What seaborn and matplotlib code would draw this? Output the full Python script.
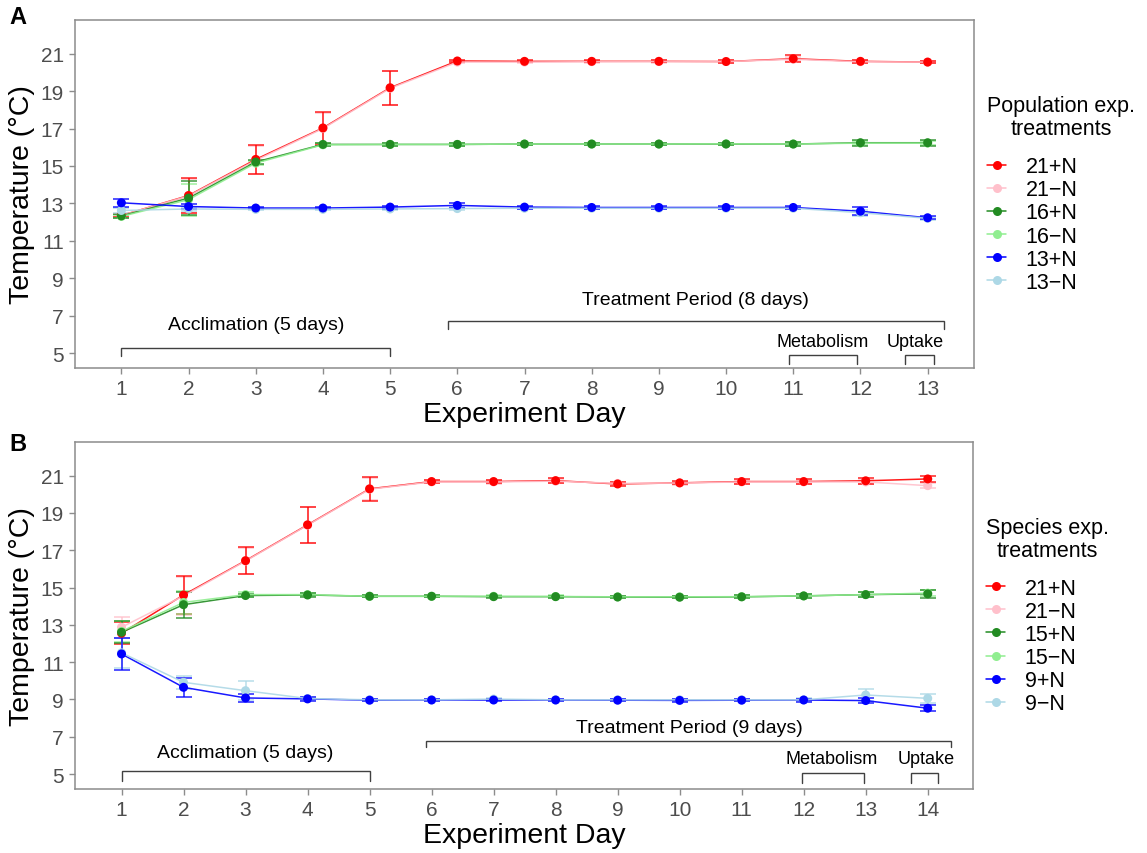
import numpy as np
import pandas as pd
import matplotlib
matplotlib.use("Agg")
import matplotlib.pyplot as plt
import seaborn as sns
from matplotlib.lines import Line2D

sns.set_theme(style="white")
plt.rcParams['font.family'] = ['Liberation Sans', 'DejaVu Sans']
plt.rcParams['text.color'] = 'black'
plt.rcParams['axes.labelcolor'] = 'black'

# ---------------- Panel A data (Population experiment) ----------------
days_a = list(range(1, 14))
labels_a = ["21+N", "21\u2212N", "16+N", "16\u2212N", "13+N", "13\u2212N"]
a_21p = [12.35, 13.42, 15.35, 17.03, 19.18, 20.61, 20.59, 20.59, 20.59, 20.58, 20.73, 20.59, 20.55]
a_21m = [12.35, 13.40, 15.30, 17.00, 19.15, 20.55, 20.55, 20.57, 20.58, 20.58, 20.70, 20.57, 20.55]
a_16p = [12.33, 13.28, 15.21, 16.15, 16.15, 16.15, 16.17, 16.17, 16.17, 16.17, 16.17, 16.24, 16.24]
a_16m = [12.30, 13.20, 15.15, 16.13, 16.15, 16.15, 16.17, 16.17, 16.17, 16.18, 16.17, 16.22, 16.22]
a_13p = [13.03, 12.83, 12.75, 12.75, 12.80, 12.89, 12.80, 12.78, 12.78, 12.78, 12.78, 12.58, 12.23]
a_13m = [12.62, 12.70, 12.68, 12.68, 12.70, 12.72, 12.74, 12.74, 12.74, 12.74, 12.74, 12.50, 12.20]
a_21p_err = [0.10, 0.95, 0.78, 0.87, 0.92, 0.06, 0.06, 0.06, 0.06, 0.06, 0.18, 0.07, 0.07]
a_21m_err = [0.10, 0.90, 0.75, 0.85, 0.90, 0.06, 0.06, 0.06, 0.06, 0.06, 0.10, 0.07, 0.07]
a_16p_err = [0.10, 0.90, 0.10, 0.08, 0.06, 0.06, 0.06, 0.06, 0.06, 0.06, 0.12, 0.15, 0.15]
a_16m_err = [0.10, 0.85, 0.10, 0.08, 0.06, 0.06, 0.06, 0.06, 0.06, 0.06, 0.10, 0.12, 0.12]
a_13p_err = [0.20, 0.15, 0.06, 0.06, 0.08, 0.12, 0.08, 0.06, 0.06, 0.06, 0.08, 0.22, 0.08]
a_13m_err = [0.15, 0.12, 0.06, 0.06, 0.06, 0.08, 0.06, 0.06, 0.06, 0.06, 0.06, 0.15, 0.08]

# ---------------- Panel B data (Species experiment) ----------------
days_b = list(range(1, 15))
labels_b = ["21+N", "21\u2212N", "15+N", "15\u2212N", "9+N", "9\u2212N"]
b_21p = [12.55, 14.60, 16.44, 18.36, 20.29, 20.68, 20.68, 20.73, 20.55, 20.61, 20.68, 20.68, 20.72, 20.82]
b_21m = [12.87, 14.55, 16.42, 18.34, 20.27, 20.66, 20.66, 20.70, 20.58, 20.60, 20.66, 20.66, 20.66, 20.46]
b_15p = [12.60, 14.08, 14.57, 14.60, 14.53, 14.53, 14.51, 14.51, 14.49, 14.48, 14.50, 14.55, 14.62, 14.66]
b_15m = [12.65, 14.20, 14.62, 14.62, 14.53, 14.53, 14.53, 14.52, 14.50, 14.50, 14.51, 14.55, 14.62, 14.70]
b_9p = [11.44, 9.65, 9.08, 9.03, 8.96, 8.97, 8.97, 8.97, 8.96, 8.95, 8.96, 8.97, 8.94, 8.53]
b_9m = [11.50, 9.92, 9.47, 9.05, 8.98, 8.98, 9.02, 8.98, 8.98, 8.98, 8.98, 8.98, 9.24, 9.06]
b_21p_err = [0.60, 1.03, 0.71, 0.96, 0.63, 0.08, 0.10, 0.15, 0.10, 0.08, 0.12, 0.12, 0.15, 0.15]
b_21m_err = [0.55, 1.00, 0.70, 0.95, 0.60, 0.08, 0.10, 0.12, 0.10, 0.08, 0.10, 0.10, 0.12, 0.12]
b_15p_err = [0.60, 0.69, 0.10, 0.10, 0.06, 0.06, 0.06, 0.06, 0.06, 0.06, 0.08, 0.10, 0.12, 0.20]
b_15m_err = [0.55, 0.60, 0.12, 0.10, 0.06, 0.06, 0.06, 0.06, 0.06, 0.06, 0.08, 0.10, 0.12, 0.15]
b_9p_err = [0.87, 0.50, 0.20, 0.10, 0.06, 0.06, 0.06, 0.06, 0.06, 0.06, 0.06, 0.08, 0.15, 0.15]
b_9m_err = [0.80, 0.35, 0.50, 0.10, 0.06, 0.06, 0.06, 0.06, 0.06, 0.06, 0.06, 0.08, 0.30, 0.25]

colors = ["#FF0000", "#FFC0CB", "#228B22", "#90EE90", "#0000FF", "#ADD8E6"]
yticks = [5, 7, 9, 11, 13, 15, 17, 19, 21]
DRAW_ORDER = [1, 0, 3, 2, 5, 4]  # -N under +N for points and error bars


def make_df(days, labels, means, errs):
    rows = []
    for lab, m, e in zip(labels, means, errs):
        for d, v, s in zip(days, m, e):
            rows.append({"day": d, "temp": v, "err": s, "trt": lab})
    return pd.DataFrame(rows)


df_a = make_df(days_a, labels_a, [a_21p, a_21m, a_16p, a_16m, a_13p, a_13m],
               [a_21p_err, a_21m_err, a_16p_err, a_16m_err, a_13p_err, a_13m_err])
df_b = make_df(days_b, labels_b, [b_21p, b_21m, b_15p, b_15m, b_9p, b_9m],
               [b_21p_err, b_21m_err, b_15p_err, b_15m_err, b_9p_err, b_9m_err])

W, H = 1147, 854
fig = plt.figure(figsize=(W / 100, H / 100), dpi=100)
axA = fig.add_axes([75 / W, 1 - 369 / H, (974 - 75) / W, (369 - 21) / H])
axB = fig.add_axes([75 / W, 1 - 790 / H, (973 - 75) / W, (790 - 443) / H])

spine_col = "#8c8c8c"
tick_col = "#4D4D4D"


def draw_panel(ax, df, labels, days, xlim, title):
    pal = dict(zip(labels, colors))
    order_labels = [labels[i] for i in DRAW_ORDER]
    # error bars (-N below +N)
    for k, lab in enumerate(order_labels):
        sub = df[df.trt == lab]
        ax.errorbar(sub.day, sub.temp, yerr=sub.err, fmt="none", ecolor=pal[lab],
                    elinewidth=1.2, capsize=5.5, capthick=1.2, alpha=0.8, zorder=2 + k * 0.01)
    # lines
    sns.lineplot(data=df, x="day", y="temp", hue="trt", hue_order=labels,
                 palette=pal, linewidth=1.1, alpha=0.9, legend=False, ax=ax,
                 errorbar=None, sort=True, zorder=3)
    # points: rows sorted so that +N points are drawn last (on top)
    df_pts = pd.concat([df[df.trt == lab] for lab in order_labels], ignore_index=True)
    sns.scatterplot(data=df_pts, x="day", y="temp", hue="trt", hue_order=labels,
                    palette=pal, s=42, linewidth=0, legend=False, ax=ax, zorder=4)
    ax.set_xlim(*xlim)
    ax.set_ylim(4.2, 22.8)
    ax.set_xticks(days)
    ax.set_yticks(yticks)
    ax.tick_params(axis="both", which="both", direction="out", length=4, width=1,
                   color=spine_col, labelsize=15, labelcolor=tick_col, pad=4,
                   bottom=True, left=True)
    for sp in ax.spines.values():
        sp.set_color(spine_col)
        sp.set_linewidth(1.1)
    ax.set_xlabel("Experiment Day", fontsize=20.5, color="black", labelpad=2)
    ax.set_ylabel("Temperature (\u00b0C)", fontsize=20.5, color="black", labelpad=4)
    ax.grid(False)
    handles = [Line2D([0], [0], color=c, marker="o", markersize=6.5, linewidth=1.1,
                      markeredgewidth=0) for c in colors]
    leg = ax.legend(handles, labels, title=title, loc="center left",
                    bbox_to_anchor=(1.0, 0.5), frameon=False, fontsize=15.5,
                    title_fontsize=15.5, handlelength=0.9, labelspacing=0.1,
                    handletextpad=0.9, borderaxespad=0.2, alignment="left",
                    labelcolor="black")
    t = leg.get_title()
    t.set_multialignment("center")
    t.set_linespacing(1.15)
    t.set_color("black")
    leg._legend_box.sep = 12
    return leg


def bracket(ax, x0, x1, y, drop, lw=1.0):
    ax.plot([x0, x0, x1, x1], [y - drop, y, y, y - drop], color="#404040",
            lw=lw, solid_joinstyle="miter", zorder=1)


draw_panel(axA, df_a, labels_a, days_a, (0.31, 13.69), "Population exp.\ntreatments")
draw_panel(axB, df_b, labels_b, days_b, (0.25, 14.73), "Species exp.\ntreatments")

# Panel A annotations
bracket(axA, 1, 5, 5.25, 0.42)
axA.text(3, 6.55, "Acclimation (5 days)", ha="center", va="center", fontsize=14)
bracket(axA, 5.86, 13.24, 6.70, 0.42)
axA.text(9.55, 7.88, "Treatment Period (8 days)", ha="center", va="center", fontsize=14)
bracket(axA, 10.93, 11.95, 4.89, 0.45)
axA.text(11.43, 5.6, "Metabolism", ha="center", va="center", fontsize=13)
bracket(axA, 12.66, 13.09, 4.89, 0.45)
axA.text(12.82, 5.6, "Uptake", ha="center", va="center", fontsize=13)

# Panel B annotations
bracket(axB, 1, 5, 5.14, 0.5)
axB.text(3, 6.17, "Acclimation (5 days)", ha="center", va="center", fontsize=14)
bracket(axB, 5.91, 14.37, 6.76, 0.32)
axB.text(10.15, 7.5, "Treatment Period (9 days)", ha="center", va="center", fontsize=14)
bracket(axB, 11.97, 12.97, 5.08, 0.58)
axB.text(12.45, 5.85, "Metabolism", ha="center", va="center", fontsize=13)
bracket(axB, 13.73, 14.16, 5.08, 0.58)
axB.text(13.98, 5.85, "Uptake", ha="center", va="center", fontsize=13)

fig.text(18 / W, 1 - 18 / H, "A", fontsize=17, fontweight="bold", ha="center", va="center")
fig.text(18 / W, 1 - 445 / H, "B", fontsize=17, fontweight="bold", ha="center", va="center")

fig.savefig("out.png", dpi=100, facecolor="white")
